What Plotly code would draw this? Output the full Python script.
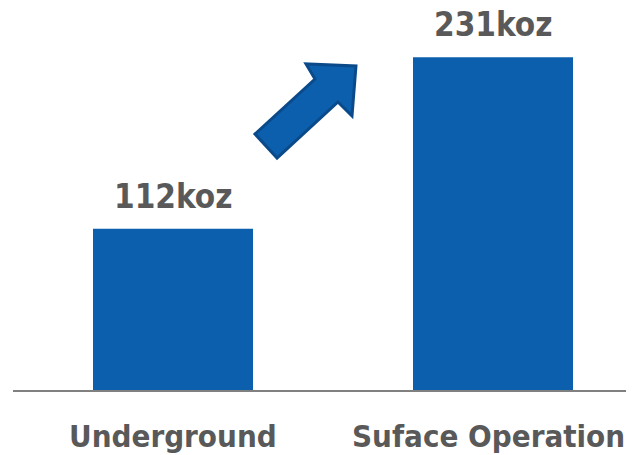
import plotly.graph_objects as go

categories = ["Underground", "Suface Operation"]
values = [112, 231]
value_labels = ["112koz", "231koz"]

# page has an 8px body margin; figure sized so it ends at the window edge
OFF = 8
W, H = 634 - OFF, 455 - OFF
ML, MR, MT, MB = 5, 0, 22, 65
plot_w = W - ML - MR
plot_h = H - MT - MB
ymax = plot_h / 1.44
xs = list(range(len(categories)))

fig = go.Figure()
fig.add_trace(go.Bar(
    x=xs, y=values, width=0.5,
    marker=dict(color="#0B5FAD", line=dict(width=0)),
))

for x, v, t in zip(xs, values, value_labels):
    fig.add_annotation(x=x, y=v, xref="x", yref="y", text=t, showarrow=False,
                       yanchor="bottom", yshift=11,
                       font=dict(family="DejaVu Sans Condensed, DejaVu Sans", size=33,
                                 color="#595959", weight="bold"))
label_xshift = [0, -5]  # keep the last label inside the window edge
for x, c, dx in zip(xs, categories, label_xshift):
    fig.add_annotation(x=x, y=0, xref="x", yref="paper", text=c, showarrow=False,
                       yanchor="middle", yshift=-46, xshift=dx,
                       font=dict(family="DejaVu Sans Condensed, DejaVu Sans", size=31,
                                 color="#595959", weight="bold"))

# decorative arrow (page pixel coordinates converted to paper coords)
def px(x, y):
    return (x - OFF - ML) / plot_w, 1 - (y - OFF - MT) / plot_h

pts = [(277, 158), (255, 134), (315, 79), (306, 64), (356, 66), (352, 116), (338, 102)]
path = "M " + " L ".join(f"{px(x,y)[0]:.4f},{px(x,y)[1]:.4f}" for x, y in pts) + " Z"
fig.add_shape(type="path", path=path, xref="paper", yref="paper",
              fillcolor="#0B5FAD", line=dict(color="#0B4A8A", width=3), layer="above")

fig.update_layout(
    width=W, height=H, margin=dict(l=ML, r=MR, t=MT, b=MB, autoexpand=False),
    paper_bgcolor="white", plot_bgcolor="white", showlegend=False,
    xaxis=dict(range=[-0.5, -0.5 + plot_w / 320], showticklabels=False,
               showgrid=False, zeroline=False, automargin=False,
               showline=True, linecolor="#808080", linewidth=2, ticks=""),
    yaxis=dict(range=[0, ymax], visible=False, automargin=False),
)
fig.write_html("out.html")
